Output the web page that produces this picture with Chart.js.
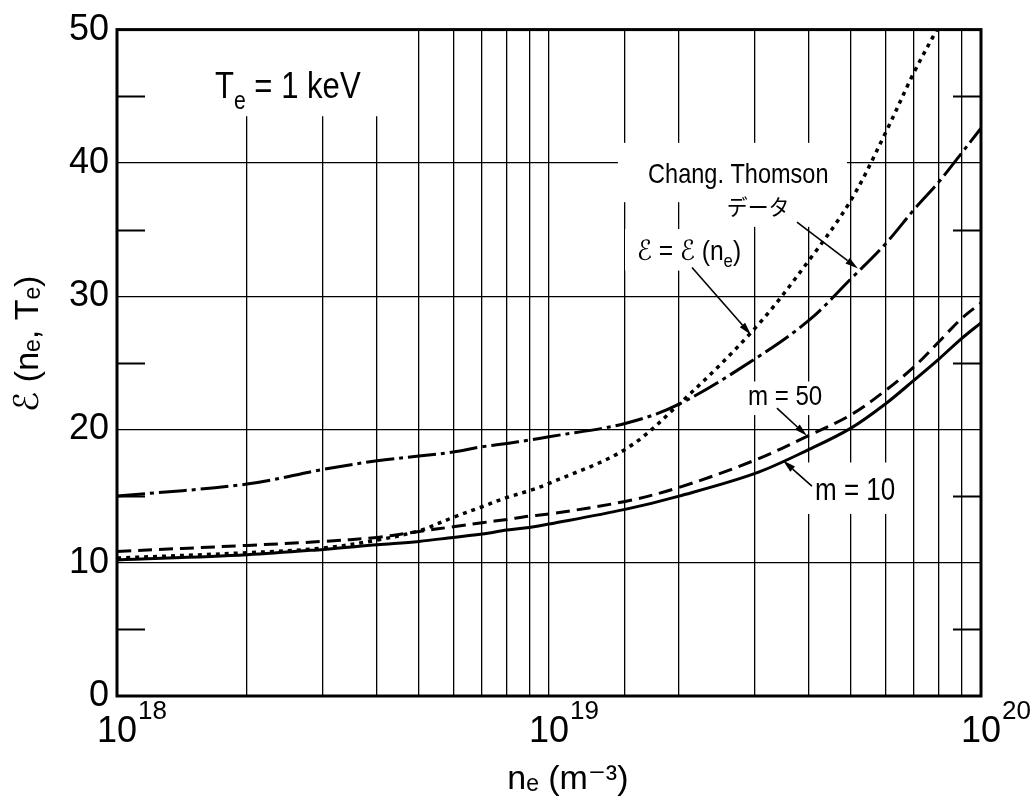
<!DOCTYPE html>
<html><head><meta charset="utf-8">
<script src="https://cdn.jsdelivr.net/npm/chart.js@4/dist/chart.umd.min.js"></script>
<style>html,body{margin:0;padding:0;background:#fff}canvas{display:block}</style>
</head><body>
<canvas id="c" width="1032" height="804"></canvas>
<script>
// ---- data ----
const density = [1e18,2e18,3e18,4e18,5e18,6e18,7e18,8e18,9e18,1e19,1.5e19,2e19,3e19,4e19,5e19,6e19,7e19,8e19,9e19,1e20];
const m10 = [10.2,10.6,11.0,11.35,11.6,11.9,12.15,12.45,12.65,12.9,14.0,15.0,16.7,18.5,20.1,21.9,23.7,25.3,26.8,28.0];
const m50 = [10.85,11.3,11.6,11.9,12.35,12.7,13.0,13.25,13.5,13.65,14.6,15.65,17.7,19.55,21.1,22.9,24.7,26.6,28.3,29.5];
const epsNe = [10.35,10.75,11.1,11.7,12.4,13.4,14.2,14.9,15.4,15.95,18.5,21.9,27.6,32.7,37.2,42.2,46.8,50.3];
const changThomson = [15.0,15.9,17.0,17.65,18.0,18.3,18.7,18.95,19.2,19.45,20.45,21.9,25.3,28.2,31.3,33.9,36.5,38.6,40.7,42.6];
const yTicks = [0,10,20,30,40,50];
const yMinorTicks = [5,15,25,35,45];
const xDecades = [1e18,1e19,1e20];

const FONT = "'Liberation Sans Narrow','Liberation Sans','DejaVu Sans',sans-serif";
const JFONT = "'Noto Sans CJK JP','Noto Sans CJK SC',sans-serif";

const toXY = ys => ys.map((v,i)=>({x:density[i], y:v}));

// labels placed in data coordinates
const labels = [
  {parts:[['T'],['e','sub'],[' = 1 keV']], x:1.686e18, y:44.84, size:37, font:FONT, sx:0.84},
  {parts:[['Chang. Thomson']], x:1.696e19, y:38.46, size:28, font:FONT, sx:0.84},
  {parts:[['データ']], x:2.58e19, y:36.1, size:22, font:JFONT, sx:0.95},
  {parts:[['ℰ = ℰ ('],['n'],['e','sub'],[')']], x:1.598e19, y:32.74, size:28, font:FONT, sx:0.88},
  {parts:[['m = 50']], x:2.888e19, y:21.83, size:28, font:FONT, sx:0.86},
  {parts:[['m = 10']], x:4.127e19, y:14.7, size:31, font:FONT, sx:0.84}
];
const clearBoxes = [
  {x1:1.515e18, x2:4.57e18, y1:43.5, y2:50},
  {x1:1.444e19, x2:4.896e19, y1:37.05, y2:41.5},
  {x1:2.738e19, x2:4.47e19, y1:35.2, y2:37.2},
  {x1:1.5e19, x2:2.84e19, y1:31.92, y2:35.04},
  {x1:2.738e19, x2:4.56e19, y1:21.08, y2:23.6},
  {x1:3.81e19, x2:6.49e19, y1:13.66, y2:17.52}
];
const arrows = [
  {x1:2.143e19, y1:32.15, x2:2.935e19, y2:27.1},
  {x1:3.75e19, y1:35.56, x2:5.19e19, y2:32.07},
  {x1:3.37e19, y1:21.6, x2:3.954e19, y2:19.52},
  {x1:4.06e19, y1:15.74, x2:3.48e19, y2:17.67}
];

function drawParts(ctx, parts, px, py, size, font, sx){
  ctx.save();
  ctx.translate(px, py);
  ctx.scale(sx||1, 1);
  let cx = 0;
  ctx.textBaseline = 'alphabetic';
  ctx.textAlign = 'left';
  for (const [t, mode] of parts){
    let s = size, dy = 0;
    if (mode==='sub'){ s = size*0.68; dy = size*0.28; }
    if (mode==='sup'){ s = size*0.68; dy = -size*0.45; }
    ctx.font = `${s}px ${font}`;
    ctx.fillText(t, cx, dy);
    cx += ctx.measureText(t).width;
  }
  ctx.restore();
}

const decor = {
  id:'decor',
  beforeDatasetsDraw(chart){
    const {ctx, scales:{x,y}, chartArea:a} = chart;
    ctx.save();
    ctx.fillStyle = '#fff';
    clearBoxes.forEach(b=>{
      const x1=x.getPixelForValue(b.x1), x2=x.getPixelForValue(b.x2);
      const y1=y.getPixelForValue(b.y1), y2=y.getPixelForValue(b.y2);
      ctx.fillRect(Math.min(x1,x2), Math.min(y1,y2), Math.abs(x2-x1), Math.abs(y2-y1));
    });
    ctx.strokeStyle = '#000'; ctx.lineWidth = 2;
    yMinorTicks.forEach(v=>{
      const py = Math.round(y.getPixelForValue(v))+0.5;
      ctx.beginPath();
      ctx.moveTo(a.left, py); ctx.lineTo(a.left+28, py);
      ctx.moveTo(a.right-28, py); ctx.lineTo(a.right, py);
      ctx.stroke();
    });
    ctx.fillStyle = '#000';
    labels.forEach(l=>drawParts(ctx, l.parts, x.getPixelForValue(l.x), y.getPixelForValue(l.y), l.size, l.font, l.sx));
    ctx.restore();
  },
  afterDatasetsDraw(chart){
    const {ctx, scales:{x,y}, chartArea:a} = chart;
    ctx.save();
    ctx.strokeStyle = '#000'; ctx.fillStyle = '#000'; ctx.lineWidth = 1.6;
    arrows.forEach(r=>{
      const x1=x.getPixelForValue(r.x1), y1=y.getPixelForValue(r.y1);
      const x2=x.getPixelForValue(r.x2), y2=y.getPixelForValue(r.y2);
      const ang = Math.atan2(y2-y1, x2-x1);
      const L = 13, W = 3.5;
      const bx = x2 - L*Math.cos(ang), by = y2 - L*Math.sin(ang);
      ctx.beginPath(); ctx.moveTo(x1,y1); ctx.lineTo(bx,by); ctx.stroke();
      ctx.beginPath();
      ctx.moveTo(x2,y2);
      ctx.lineTo(bx + W*Math.sin(ang), by - W*Math.cos(ang));
      ctx.lineTo(bx - W*Math.sin(ang), by + W*Math.cos(ang));
      ctx.closePath(); ctx.fill();
    });
    ctx.lineWidth = 3;
    ctx.strokeRect(a.left, a.top, a.right-a.left, a.bottom-a.top);
    ctx.restore();
  },
  afterDraw(chart){
    const {ctx, scales:{x}, chartArea:a} = chart;
    ctx.save();
    ctx.fillStyle = '#000';
    ctx.textAlign = 'left'; ctx.textBaseline = 'top';
    xDecades.forEach(d=>{
      const px = x.getPixelForValue(d);
      ctx.font = `36px ${FONT}`;
      const w = ctx.measureText('10').width;
      ctx.font = `26px ${FONT}`;
      ctx.fillText(String(Math.round(Math.log10(d))), px + w/2 + 1, a.bottom + 3);
    });
    ctx.restore();
  }
};

const base = {pointRadius:0, borderColor:'#000', fill:false, tension:0.35, borderCapStyle:'butt'};

new Chart(document.getElementById('c'), {
  type:'line',
  data:{
    datasets:[
      {...base, label:'m = 10', data:toXY(m10), borderWidth:3},
      {...base, label:'m = 50', data:toXY(m50), borderWidth:3, borderDash:[14,7]},
      {...base, label:'ℰ = ℰ(nₑ)', data:toXY(epsNe), borderWidth:3.5, borderDash:[4,5]},
      {...base, label:'Chang. Thomson データ', data:toXY(changThomson), borderWidth:3, borderDash:[28,5,4,5]}
    ]
  },
  plugins:[decor],
  options:{
    responsive:false, animation:false, devicePixelRatio:1,
    layout:{padding:{top:22, right:51, left:0, bottom:0}},
    plugins:{legend:{display:false}, tooltip:{enabled:false}},
    scales:{
      x:{
        type:'logarithmic', min:1e18, max:1e20,
        afterFit(s){ s.height = 108; },
        border:{display:false},
        grid:{color:'#000', lineWidth:1.3, drawTicks:false},
        ticks:{
          autoSkip:false, maxRotation:0, padding:14, color:'#000',
          font:{size:36, family:FONT},
          callback(v){ const e = Math.log10(v); return Math.abs(e-Math.round(e))<1e-9 ? '10' : ''; }
        },
        title:{display:true, text:'    nₑ (m⁻³)', color:'#000', font:{size:34, family:FONT}, padding:{top:0,bottom:4}}
      },
      y:{
        min:0, max:50,
        afterFit(s){ s.width = 117; },
        afterBuildTicks(s){ s.ticks = yTicks.map(v=>({value:v})); },
        border:{display:false},
        grid:{color:'#000', lineWidth:1.3, drawTicks:false},
        ticks:{padding:8, color:'#000', font:{size:36, family:FONT}},
        title:{display:true, text:'    ℰ (nₑ, Tₑ)', color:'#000', font:{size:34, family:FONT}, padding:{top:8,bottom:0}}
      }
    }
  }
});
</script>
</body></html>
